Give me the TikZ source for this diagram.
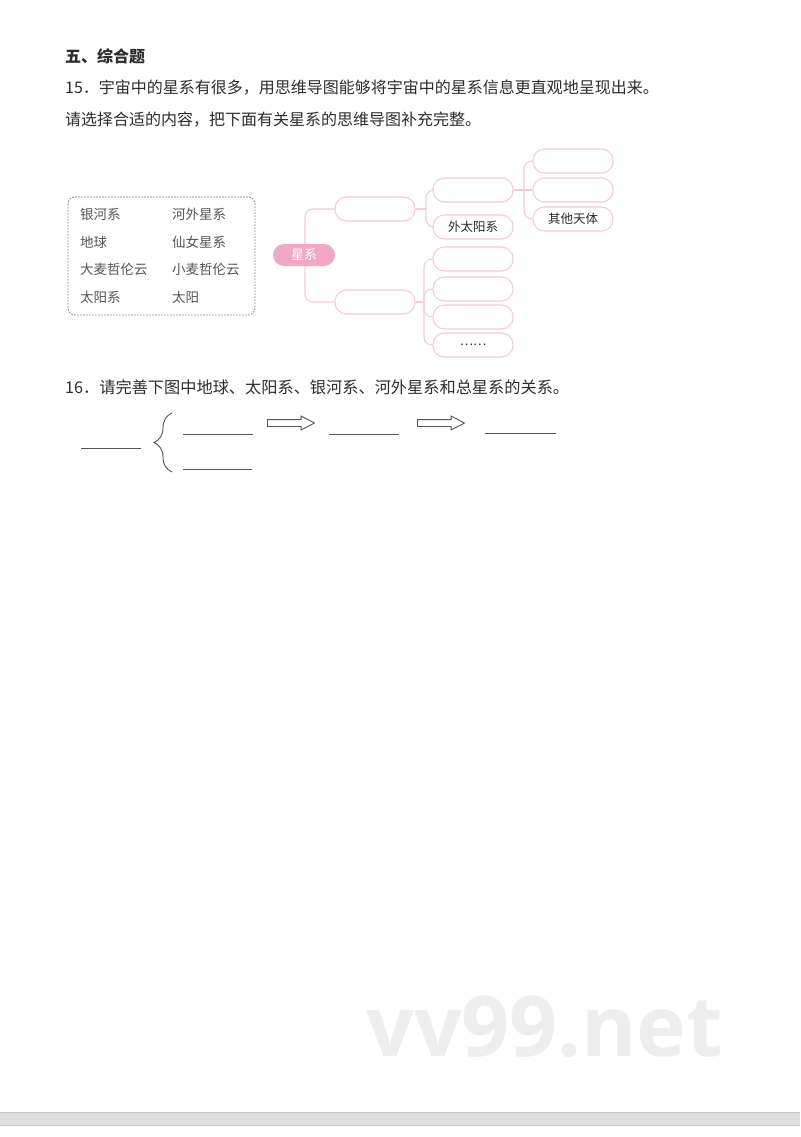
\documentclass[tikz,border=0pt]{standalone}
\usepackage{fontspec}
\newfontfamily\cjk{Noto Sans CJK SC}
\newfontfamily\wm{Open Sans}
\usetikzlibrary{shapes.arrows,decorations.pathreplacing}
\definecolor{txt}{RGB}{45,45,45}
\definecolor{ltxt}{RGB}{85,85,85}
\definecolor{pinkfill}{RGB}{240,168,198}
\definecolor{pinkline}{RGB}{242,204,218}
\definecolor{wmgray}{RGB}{238,238,238}
\begin{document}
\begin{tikzpicture}[x=1pt,y=-1pt,
  body/.style={anchor=west,inner sep=0pt,text=txt,font=\cjk\fontsize{16}{18}\selectfont},
  word/.style={anchor=west,inner sep=0pt,text=ltxt,font=\cjk\fontsize{13.5}{16}\selectfont},
  pill/.style={draw=pinkline,line width=1.1pt,fill=white,rounded corners=11.5pt,minimum width=80pt,minimum height=24pt,inner sep=0pt,text=txt,font=\cjk\fontsize{12.5}{14}\selectfont},
  rootpill/.style={fill=pinkfill,rounded corners=11pt,minimum width=62pt,minimum height=22pt,inner sep=0pt,text=white,font=\cjk\fontsize{13}{14}\selectfont},
  conn/.style={draw=pinkline,line width=1.1pt,rounded corners=8pt},
  blank/.style={draw=ltxt,line width=0.9pt},
  hollow/.style={single arrow,draw=ltxt,line width=0.9pt,minimum height=47pt,minimum width=13pt,inner sep=3pt,single arrow head extend=3.5pt,single arrow tip angle=55,anchor=west}
]
\useasboundingbox (0,0) rectangle (800,1137);
\fill[white] (0,0) rectangle (800,1137);

% headings and questions
\node[body,font=\cjk\bfseries\fontsize{16}{18}\selectfont] (h) at (65,56) {五、综合题};
\node[body] (q15) at (65,88) {15．宇宙中的星系有很多，用思维导图能够将宇宙中的星系信息更直观地呈现出来。};
\node[body] (q15b) at (65,120) {请选择合适的内容，把下面有关星系的思维导图补充完整。};

% word list box
\draw[draw=gray,line width=0.8pt,dash pattern=on 1.6pt off 1.4pt,rounded corners=7pt] (68,197) rectangle (255,315);
\node[word] (w1) at (80,214) {银河系};
\node[word] (w2) at (172,214) {河外星系};
\node[word] (w3) at (80,242) {地球};
\node[word] (w4) at (172,242) {仙女星系};
\node[word] (w5) at (80,269) {大麦哲伦云};
\node[word] (w6) at (172,269) {小麦哲伦云};
\node[word] (w7) at (80,297) {太阳系};
\node[word] (w8) at (172,297) {太阳};

% mind map nodes
\node[pill] (b1) at (375,209) {};
\node[pill] (b2) at (375,302) {};
\node[pill] (c1) at (473,190) {};
\node[pill] (c2) at (473,227) {外太阳系};
\node[pill] (d1) at (573,161) {};
\node[pill] (d2) at (573,190) {};
\node[pill] (d3) at (573,219) {其他天体};
\node[pill] (e1) at (473,259) {};
\node[pill] (e2) at (473,289) {};
\node[pill] (e3) at (473,317) {};
\node[pill] (e4) at (473,345) {……};

\coordinate (j1) at (426,209);
\coordinate (j2) at (524,190);
\coordinate (j3) at (424,302);

% connectors
\draw[conn] (305,255) |- (b1.west);
\draw[conn] (305,255) |- (b2.west);
\draw[conn] (b1.east) -- (j1);
\draw[conn] (j1) |- (c1.west);
\draw[conn] (j1) |- (c2.west);
\draw[conn] (c1.east) -- (d2.west);
\draw[conn] (j2) |- (d1.west);
\draw[conn] (j2) |- (d3.west);
\draw[conn] (b2.east) -- (j3);
\draw[conn] (j3) |- (e1.west);
\draw[conn] (j3) |- (e2.west);
\draw[conn] (j3) |- (e3.west);
\draw[conn] (j3) |- (e4.west);

\node[rootpill] (root) at (304,255) {星系};

% question 16
\node[body,font=\cjk\fontsize{16.2}{18}\selectfont] (q16) at (65,387) {16．请完善下图中地球、太阳系、银河系、河外星系和总星系的关系。};

\draw[blank] (81,448) -- (141,448);
\draw[ltxt,line width=0.9pt,decorate,decoration={brace,amplitude=18pt}] (172,472) -- (172,413);
\draw[blank] (183,434) -- (253,434);
\draw[blank] (183,469) -- (252,469);
\node[hollow] (a1) at (267,423) {};
\draw[blank] (329,434) -- (399,434);
\node[hollow] (a2) at (417,423) {};
\draw[blank] (485,433) -- (556,433);

% watermark
\node[anchor=south west,inner sep=0pt,text=wmgray,font=\wm\bfseries\fontsize{84}{84}\selectfont] (wm) at (366,1058) {vv99.net};

% bottom band
\fill[black!13] (0,1112) rectangle (800,1125);
\draw[black!22,line width=0.8pt] (0,1112) -- (800,1112);
\draw[black!22,line width=0.8pt] (0,1125) -- (800,1125);
\end{tikzpicture}
\end{document}
